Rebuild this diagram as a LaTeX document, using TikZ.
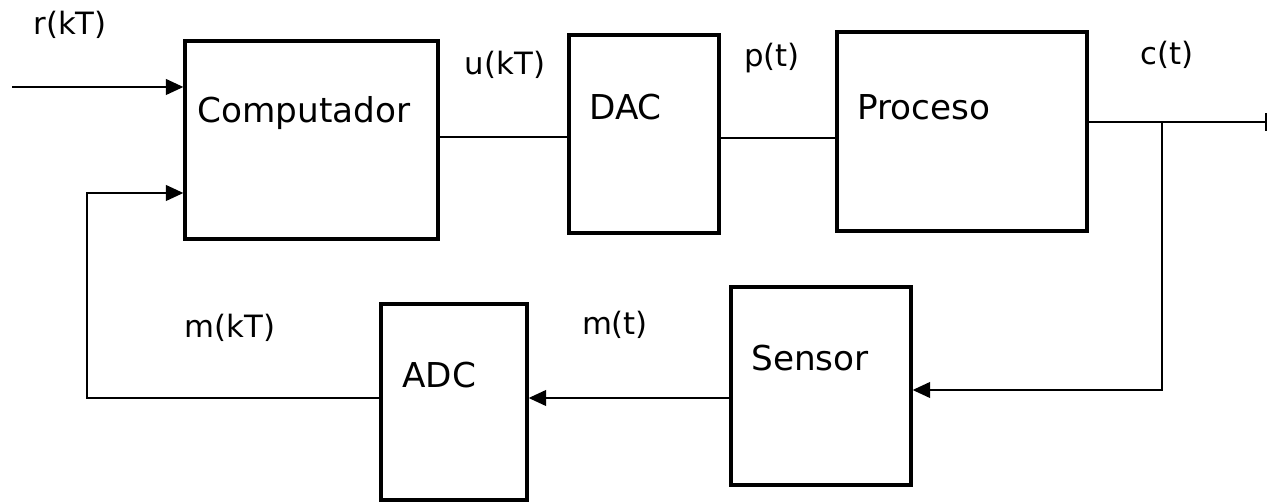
\documentclass[tikz,border=0pt]{standalone}
\usepackage{fontspec}
\setmainfont{DejaVu Sans}
\usetikzlibrary{arrows.meta,calc}

\tikzset{
  bloque/.style={draw,line width=1.9pt,minimum height=3.96cm},
  senal/.style={line width=1.1pt},
  flecha/.style={senal,-{Triangle[length=10pt,width=9pt]}},
  texto/.style={anchor=west,font=\fontsize{19.5}{22}\selectfont,inner sep=0pt},
  etiqueta/.style={font=\fontsize{17.5}{20}\selectfont,inner sep=0pt}
}

\begin{document}
\begin{tikzpicture}[x=0.02cm,y=-0.02cm]
			\useasboundingbox (0,0) rectangle (1268,502);
			% bloques
			\node[bloque,minimum width=5.06cm] (comp) at (311.5,140) {};
			\node[bloque,minimum width=3.0cm] (dac) at (644,134) {};
			\node[bloque,minimum width=5.0cm,minimum height=3.98cm] (proc) at (962,131.5) {};
			\node[bloque,minimum width=3.6cm] (sens) at (821,386) {};
			\node[bloque,minimum width=2.92cm,minimum height=3.92cm] (adc) at (454,402) {};
			\node[texto] (tcomp) at (197,113) {Computador};
			\node[texto] (tdac) at (589,107) {DAC};
			\node[texto] (tproc) at (857,107) {Proceso};
			\node[texto] (tsens) at (751,358) {Sensor};
			\node[texto] (tadc) at (402,375) {ADC};
			% senales
			\foreach \n/\p/\t in {r/{70,25}/r(kT),u/{505,65}/u(kT),p/{772,58}/p(t),c/{1167,55}/c(t),mk/{230,328}/m(kT),m/{615,325}/m(t)}
				\node[etiqueta] (l\n) at (\p) {\t};
			\path
			(12,87) coordinate (ent)
			(1267,122) coordinate (sal)
			(1162,122) coordinate (rama)
			(87,193) coordinate (fb)
			;
			\draw[flecha] (ent) -- (comp.west |- ent);
			\draw[senal] (comp.east |- 0,137) -- (dac.west |- 0,137);
			\draw[senal] (dac.east |- 0,138) -- (proc.west |- 0,138);
			\draw[senal,-{Bar[width=10pt]}] (proc.east |- sal) -- (sal);
			\draw[flecha] (rama) -- (rama |- 0,390) -- (sens.east |- 0,390);
			\draw[flecha] (sens.west |- 0,398) -- (adc.east |- 0,398);
			\draw[flecha] (adc.west |- 0,398) -- (fb |- 0,398) -- (fb) -- (comp.west |- fb);
		\end{tikzpicture}
\end{document}
